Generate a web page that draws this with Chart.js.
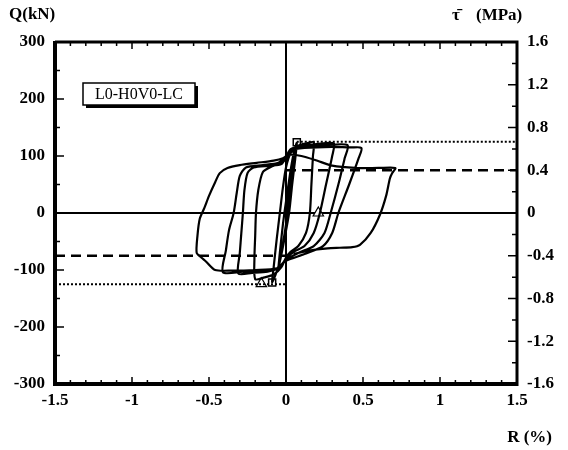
<!DOCTYPE html>
<html>
<head>
<meta charset="utf-8">
<script src="https://cdn.jsdelivr.net/npm/chart.js@4/dist/chart.umd.min.js"></script>
<style>
  html, body { margin: 0; padding: 0; background: #fff; }
  #wrap { width: 568px; height: 450px; position: relative; }
</style>
</head>
<body>
<div id="wrap"><canvas id="chart" width="568" height="450"></canvas></div>
<script>
// hysteresis loops, [R (%), Q (kN)], one array per cycle
const cycle1 = [[0,0],[0.02,40],[0.04,80],[0.05,100],[0.04,75],[0.02,30],[0,-20],[-0.03,-70],[-0.05,-100],
    [-0.04,-70],[-0.02,-20],[0,20]];
const cycle2 = [[0.03,75],[0.05,105],[0.07,123],[0.06,95],[0.04,50],[0.02,0],[-0.01,-45],[-0.04,-85],[-0.07,-110],
    [-0.09,-121],[-0.08,-95],[-0.06,-45],[-0.04,0],[-0.02,45],[0,80]];
const cycle3 = [[0.03,105],[0.08,118],[0.13,122],[0.18,124],[0.175,100],[0.165,50],[0.155,0],[0.13,-35],[0.08,-58],
    [0.03,-68],[0,-78],[-0.03,-95],[-0.08,-108],[-0.14,-113],[-0.2,-116],[-0.205,-80],[-0.2,-40],[-0.195,0],
    [-0.18,40],[-0.15,72],[-0.09,82],[-0.03,88],[0,95]];
const cycle4 = [[0.03,110],[0.1,118],[0.2,121],[0.31,122],[0.30,100],[0.26,50],[0.22,0],[0.18,-35],[0.12,-58],
    [0.05,-68],[0,-80],[-0.04,-95],[-0.12,-103],[-0.22,-105],[-0.31,-106],[-0.30,-70],[-0.29,-35],[-0.28,0],
    [-0.27,40],[-0.25,70],[-0.21,80],[-0.1,83],[-0.03,86],[0,98]];
const cycle5 = [[0.03,112],[0.12,117],[0.25,119],[0.40,119],[0.38,95],[0.34,50],[0.29,0],[0.25,-35],[0.18,-58],
    [0.08,-70],[0,-82],[-0.05,-96],[-0.15,-102],[-0.28,-103],[-0.41,-104],[-0.39,-65],[-0.37,-30],[-0.34,0],
    [-0.32,35],[-0.30,65],[-0.26,80],[-0.15,84],[-0.05,88],[0,100]];
const cycle6 = [[0.03,110],[0.12,114],[0.30,116],[0.42,115],[0.49,114],[0.47,95],[0.41,50],[0.34,0],[0.30,-35],
    [0.24,-58],[0.12,-72],[0,-84],[-0.06,-97],[-0.2,-100],[-0.35,-101],[-0.46,-100],[-0.52,-85],[-0.55,-78],
    [-0.58,-70],[-0.575,-40],[-0.56,-10],[-0.53,9],[-0.50,30],[-0.46,54],[-0.43,70],[-0.38,79],[-0.30,84],
    [-0.19,88],[-0.08,92],[-0.02,96],[0.02,102]];
const cycle7 = [[0.1,100],[0.2,92],[0.3,83],[0.45,79],[0.6,79],[0.71,79],[0.69,70],[0.675,61],[0.65,30],
    [0.61,-3],[0.55,-35],[0.48,-56],[0.43,-60],[0.35,-61],[0.27,-62],[0.15,-66],[0.05,-72]];

const squarePts = [[0.07,124],[-0.09,-122]];
const trianglePts = [[0.21,0],[-0.16,-124]];

const dottedQ = 125;    // kN
const dashedQ = 75;     // kN  (0.4 MPa)
const tauPerKN = 1.6 / 300;

const xTickLabels = [-1.5,-1,-0.5,0,0.5,1,1.5];
const qTickLabels = [-300,-200,-100,0,100,200,300];
const tauTickLabels = [-1.6,-1.2,-0.8,-0.4,0,0.4,0.8,1.2,1.6];

const toXY = arr => arr.map(p => ({x: p[0], y: p[1]}));
const loop = [].concat(cycle1, cycle2, cycle3, cycle4, cycle5, cycle6, cycle7);

const FONT = '"Liberation Serif", "Times New Roman", serif';

function isMult(v, step) {
    return Math.abs(v / step - Math.round(v / step)) < 1e-6;
}

const framePlugin = {
    id: 'frame',
    beforeDatasetsDraw(chart) {
        const ctx = chart.ctx, a = chart.chartArea;
        const x0 = chart.scales.x.getPixelForValue(0);
        const y0 = chart.scales.y.getPixelForValue(0);
        ctx.save();
        ctx.strokeStyle = '#000';
        ctx.lineWidth = 2;
        ctx.beginPath();
        ctx.moveTo(a.left, y0); ctx.lineTo(a.right, y0);
        ctx.moveTo(x0, a.top); ctx.lineTo(x0, a.bottom);
        ctx.stroke();
        ctx.restore();
    },
    afterDraw(chart) {
        const ctx = chart.ctx, a = chart.chartArea;
        const sx = chart.scales.x, sy = chart.scales.y, sy2 = chart.scales.y2;
        ctx.save();
        ctx.strokeStyle = '#000';
        ctx.fillStyle = '#000';
        // frame
        ctx.lineWidth = 4;
        ctx.beginPath();
        ctx.moveTo(a.left, a.top - 1); ctx.lineTo(a.left, a.bottom + 2);
        ctx.moveTo(a.left - 2, a.bottom); ctx.lineTo(a.right + 1, a.bottom);
        ctx.stroke();
        ctx.lineWidth = 3;
        ctx.beginPath();
        ctx.moveTo(a.left, a.top); ctx.lineTo(a.right, a.top);
        ctx.moveTo(a.right, a.top - 1.5); ctx.lineTo(a.right, a.bottom + 2);
        ctx.stroke();
        // inward ticks
        ctx.lineWidth = 1.5;
        ctx.beginPath();
        sx.ticks.forEach(t => {
            const px = sx.getPixelForValue(t.value);
            const len = isMult(t.value, 0.5) ? 7 : 4;
            ctx.moveTo(px, a.bottom); ctx.lineTo(px, a.bottom - len);
            ctx.moveTo(px, a.top); ctx.lineTo(px, a.top + len);
        });
        sy.ticks.forEach(t => {
            const py = sy.getPixelForValue(t.value);
            const len = isMult(t.value, 100) ? 9 : 5;
            ctx.moveTo(a.left, py); ctx.lineTo(a.left + len, py);
        });
        sy2.ticks.forEach(t => {
            const py = sy2.getPixelForValue(t.value);
            const len = isMult(t.value, 0.4) ? 9 : 5;
            ctx.moveTo(a.right, py); ctx.lineTo(a.right - len, py);
        });
        ctx.stroke();

        // axis titles
        ctx.font = 'bold 17px ' + FONT;
        ctx.textBaseline = 'middle';
        ctx.textAlign = 'left';
        ctx.fillText('Q(kN)', 9, 15);
        ctx.fillText('τ̄', 452, 16);
        ctx.fillText('(MPa)', 476, 16);
        ctx.textAlign = 'right';
        ctx.fillText('R (%)', 552, 438);

        // specimen label box
        const bx = 83, by = 83, bw = 112, bh = 22;
        ctx.fillRect(bx + 3, by + 3, bw, bh);
        ctx.fillStyle = '#fff';
        ctx.fillRect(bx, by, bw, bh);
        ctx.lineWidth = 1.5;
        ctx.strokeRect(bx, by, bw, bh);
        ctx.fillStyle = '#000';
        ctx.font = '16px ' + FONT;
        ctx.textAlign = 'center';
        ctx.fillText('L0-H0V0-LC', bx + bw / 2, by + bh / 2 + 1);
        ctx.restore();
    }
};

new Chart(document.getElementById('chart'), {
    type: 'scatter',
    data: {
        datasets: [
            {
                data: [{x: 0.07, y: dottedQ}, {x: 1.5, y: dottedQ}],
                showLine: true, borderColor: '#000', borderWidth: 2.2, borderDash: [2, 2],
                pointRadius: 0
            },
            {
                data: [{x: -1.5, y: -dottedQ}, {x: 0, y: -dottedQ}],
                showLine: true, borderColor: '#000', borderWidth: 2.2, borderDash: [2, 2],
                pointRadius: 0
            },
            {
                data: [{x: 0, y: dashedQ}, {x: 1.5, y: dashedQ}],
                showLine: true, borderColor: '#000', borderWidth: 2.4, borderDash: [10, 6],
                pointRadius: 0
            },
            {
                data: [{x: -1.5, y: -dashedQ}, {x: 0, y: -dashedQ}],
                showLine: true, borderColor: '#000', borderWidth: 2.4, borderDash: [10, 6],
                pointRadius: 0
            },
            {
                data: toXY(loop),
                showLine: true, borderColor: '#000', borderWidth: 2.2, tension: 0.25,
                pointRadius: 0
            },
            {
                data: toXY(squarePts),
                pointStyle: 'rect', pointRadius: 5, pointBorderWidth: 1.5,
                pointBackgroundColor: '#fff', pointBorderColor: '#000'
            },
            {
                data: toXY(trianglePts),
                pointStyle: 'triangle', pointRadius: 6, pointBorderWidth: 1.2,
                pointBackgroundColor: '#fff', pointBorderColor: '#000'
            }
        ]
    },
    options: {
        responsive: false,
        animation: false,
        layout: { padding: { top: 42, left: 0, right: 0, bottom: 0 } },
        plugins: { legend: { display: false }, tooltip: { enabled: false } },
        scales: {
            x: {
                type: 'linear', min: -1.5, max: 1.5,
                grid: { display: false, drawTicks: false },
                border: { display: false },
                ticks: {
                    stepSize: 0.1, autoSkip: false, maxRotation: 0, padding: 6,
                    color: '#000', font: { family: FONT, size: 17, weight: 'bold' },
                    callback: v => {
                        const m = xTickLabels.find(l => Math.abs(l - v) < 1e-6);
                        return m === undefined ? '' : String(m);
                    }
                },
                afterFit: s => { s.height = 66; }
            },
            y: {
                type: 'linear', position: 'left', min: -300, max: 300,
                grid: { display: false, drawTicks: false },
                border: { display: false },
                ticks: {
                    stepSize: 50, autoSkip: false, padding: 10,
                    color: '#000', font: { family: FONT, size: 17, weight: 'bold' },
                    callback: v => {
                        const m = qTickLabels.find(l => Math.abs(l - v) < 1e-6);
                        return m === undefined ? '' : String(m);
                    }
                },
                afterFit: s => { s.width = 55; }
            },
            y2: {
                type: 'linear', position: 'right', min: -300 * tauPerKN, max: 300 * tauPerKN,
                grid: { display: false, drawTicks: false },
                border: { display: false },
                ticks: {
                    stepSize: 0.2, autoSkip: false, padding: 10,
                    color: '#000', font: { family: FONT, size: 17, weight: 'bold' },
                    callback: v => {
                        const m = tauTickLabels.find(l => Math.abs(l - v) < 1e-6);
                        return m === undefined ? '' : String(m);
                    }
                },
                afterFit: s => { s.width = 51; }
            }
        }
    },
    plugins: [framePlugin]
});
</script>
</body>
</html>
